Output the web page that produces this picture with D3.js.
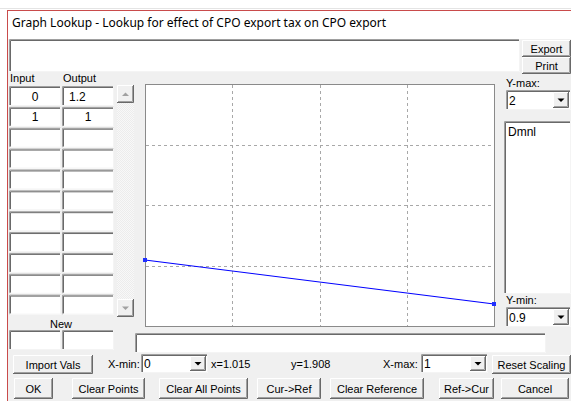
<!DOCTYPE html>
<html>
<head>
<meta charset="utf-8">
<script src="https://cdn.jsdelivr.net/npm/d3@7"></script>
<style>
  body { margin: 0; background: #fff; }
  svg text { font-family: "Liberation Sans", Arial, sans-serif; font-size: 11px; fill: #000; }
  .title { font-family: "Noto Sans", sans-serif; font-size: 12px; }
</style>
</head>
<body>
<div class="chart"></div>
<script>
// lookup points
var inputs = [0, 1];
var outputs = [1.2, 1];
var xRange = [0, 1];
var yRange = [0.9, 2];
var gridDivs = 4;
var units = 'Dmnl';
var titleText = 'Graph Lookup - Lookup for effect of CPO export tax on CPO export';
var tableRows = 11;

var W = 571, H = 401;
var svg = d3.select('.chart').append('svg')
    .attr('width', W).attr('height', H);

// window frame
svg.append('rect').attr('x', 0).attr('y', 0).attr('width', W).attr('height', H).attr('fill', '#fff');
svg.append('line').attr('x1', 0).attr('x2', W).attr('y1', 8.5).attr('y2', 8.5).attr('stroke', '#e4e4e4');
svg.append('rect').attr('x', 7).attr('y', 10).attr('width', W - 7).attr('height', H - 10).attr('fill', '#f0f0f0');
svg.append('rect').attr('x', 8).attr('y', 11).attr('width', W - 8).attr('height', 28).attr('fill', '#fff');
svg.append('line').attr('x1', 7.5).attr('x2', 7.5).attr('y1', 10).attr('y2', H).attr('stroke', '#c94b4b');
svg.append('line').attr('x1', 7).attr('x2', W).attr('y1', 10.5).attr('y2', 10.5).attr('stroke', '#c94b4b');
svg.append('text').attr('class', 'title').attr('x', 12).attr('y', 27).text(titleText);

function sunken(x, y, w, h, fill) {
  var g = svg.append('g');
  g.append('rect').attr('x', x).attr('y', y).attr('width', w).attr('height', h).attr('fill', fill || '#fff');
  g.append('path').attr('d', 'M' + (x + 0.5) + ',' + (y + h) + 'V' + (y + 0.5) + 'H' + (x + w))
    .attr('stroke', '#a0a0a0').attr('fill', 'none');
  g.append('path').attr('d', 'M' + (x + 1.5) + ',' + (y + h - 1) + 'V' + (y + 1.5) + 'H' + (x + w - 1))
    .attr('stroke', '#696969').attr('fill', 'none');
  g.append('path').attr('d', 'M' + x + ',' + (y + h - 0.5) + 'H' + (x + w - 0.5) + 'V' + y)
    .attr('stroke', '#f4f4f4').attr('fill', 'none');
  return g;
}

function button(x, y, w, h, label) {
  var g = svg.append('g');
  g.append('rect').attr('x', x).attr('y', y).attr('width', w).attr('height', h).attr('fill', '#f0f0f0');
  g.append('path').attr('d', 'M' + (x + 0.5) + ',' + (y + h - 1) + 'V' + (y + 0.5) + 'H' + (x + w - 1))
    .attr('stroke', '#fff').attr('fill', 'none');
  g.append('path').attr('d', 'M' + x + ',' + (y + h - 0.5) + 'H' + (x + w - 0.5) + 'V' + y)
    .attr('stroke', '#696969').attr('fill', 'none');
  g.append('path').attr('d', 'M' + (x + 1) + ',' + (y + h - 1.5) + 'H' + (x + w - 1.5) + 'V' + (y + 1))
    .attr('stroke', '#a0a0a0').attr('fill', 'none');
  if (label) {
    g.append('text').attr('x', x + w / 2).attr('y', y + h / 2 + 4)
      .attr('text-anchor', 'middle').text(label);
  }
  return g;
}

function arrowDown(cx, cy, color) {
  svg.append('path').attr('d', 'M' + (cx - 3.5) + ',' + (cy - 1.5) + 'h7l-3.5,3.5z').attr('fill', color || '#000');
}

function combo(x, y, w, h, value) {
  sunken(x, y, w, h);
  button(x + w - 18, y + 2, 16, h - 4);
  arrowDown(x + w - 10, y + h / 2, '#000');
  svg.append('text').attr('x', x + 3).attr('y', y + h / 2 + 4.5).style('font-size', '12px').text(value);
}

// top text area and Export / Print
sunken(9, 39, 511, 33);
button(522, 40, 49, 17, 'Export');
button(522, 57, 49, 17, 'Print');

// table headers
svg.append('text').attr('x', 10).attr('y', 82).text('Input');
svg.append('text').attr('x', 63).attr('y', 82).text('Output');

var rowY = d3.scaleLinear().domain([0, tableRows]).range([86, 315.5]);
d3.range(tableRows).forEach(function(i) {
  sunken(9, rowY(i), 52, 20);
  sunken(62, rowY(i), 52, 20);
});
inputs.forEach(function(v, i) {
  svg.append('text').attr('x', 35).attr('y', rowY(i) + 14.5).attr('text-anchor', 'middle')
    .style('font-size', '12px').text(v);
  svg.append('text').attr('x', outputs[i] % 1 === 0 ? 88 : 69).attr('y', rowY(i) + 14.5)
    .attr('text-anchor', outputs[i] % 1 === 0 ? 'middle' : 'start')
    .style('font-size', '12px').text(outputs[i]);
});

// scroll bar
var pat = svg.append('defs').append('pattern').attr('id', 'dots')
  .attr('width', 2).attr('height', 2).attr('patternUnits', 'userSpaceOnUse');
pat.append('rect').attr('width', 2).attr('height', 2).attr('fill', '#f8f8f8');
pat.append('rect').attr('width', 1).attr('height', 1).attr('fill', '#ececec');
pat.append('rect').attr('x', 1).attr('y', 1).attr('width', 1).attr('height', 1).attr('fill', '#ececec');
svg.append('rect').attr('x', 117).attr('y', 85).attr('width', 17).attr('height', 232).attr('fill', 'url(#dots)');
button(117, 85, 17, 18);
svg.append('path').attr('d', 'M122,96h7l-3.5,-3.5z').attr('fill', '#a0a0a0');
button(117, 299, 17, 18);
arrowDown(125.5, 308, '#a0a0a0');

svg.append('text').attr('x', 61).attr('y', 328).attr('text-anchor', 'middle').text('New');
sunken(9, 330, 52, 20);
sunken(62, 330, 52, 20);

// plot area
var margin = { left: 145, top: 84, right: 494, bottom: 326 };
svg.append('rect').attr('x', 139).attr('y', 79).attr('width', 362).attr('height', 252).attr('fill', '#f0f0f0');
var x = d3.scaleLinear().domain(xRange).range([margin.left, margin.right]);
var y = d3.scaleLinear().domain(yRange).range([margin.bottom, margin.top]);

svg.append('rect').attr('x', margin.left + 0.5).attr('y', margin.top + 0.5)
  .attr('width', margin.right - margin.left).attr('height', margin.bottom - margin.top)
  .attr('fill', '#fff').attr('stroke', '#8a8a8a');

var xTicks = d3.range(1, gridDivs).map(function(i) { return xRange[0] + (xRange[1] - xRange[0]) * i / gridDivs; });
var yTicks = d3.range(1, gridDivs).map(function(i) { return yRange[0] + (yRange[1] - yRange[0]) * i / gridDivs; });

var grid = svg.append('g').attr('stroke', '#a8a8a8').attr('stroke-dasharray', '3,3');
grid.selectAll('.vx').data(xTicks).enter().append('line')
  .attr('x1', function(d) { return Math.round(x(d)) + 0.5; })
  .attr('x2', function(d) { return Math.round(x(d)) + 0.5; })
  .attr('y1', margin.top + 1).attr('y2', margin.bottom);
grid.selectAll('.hy').data(yTicks).enter().append('line')
  .attr('y1', function(d) { return Math.round(y(d)) + 0.5; })
  .attr('y2', function(d) { return Math.round(y(d)) + 0.5; })
  .attr('x1', margin.left + 1).attr('x2', margin.right);

var pts = inputs.map(function(d, i) { return [d, outputs[i]]; });
svg.append('path').datum(pts)
  .attr('d', d3.line().x(function(d) { return x(d[0]); }).y(function(d) { return y(d[1]); }))
  .attr('stroke', '#0000ff').attr('stroke-width', 1.2).attr('fill', 'none');
svg.selectAll('.pt').data(pts).enter().append('rect')
  .attr('x', function(d) { return x(d[0]) - 2; })
  .attr('y', function(d) { return y(d[1]) - 2; })
  .attr('width', 4).attr('height', 4).attr('fill', '#2030ff');

// right side
svg.append('text').attr('x', 506).attr('y', 87).text('Y-max:');
combo(506, 90, 65, 20, yRange[1]);
sunken(504, 121, 67, 173);
svg.append('text').attr('x', 508).attr('y', 136).style('font-size', '12px').text(units);
svg.append('text').attr('x', 506).attr('y', 304).text('Y-min:');
combo(506, 307, 65, 20, yRange[0]);

// bottom
sunken(135, 333, 411, 20);
button(13, 355, 80, 19, 'Import Vals');
svg.append('text').attr('x', 108).attr('y', 368).text('X-min:');
combo(141, 354, 67, 19, xRange[0]);
svg.append('text').attr('x', 211).attr('y', 368).text('x=1.015');
svg.append('text').attr('x', 291).attr('y', 368).text('y=1.908');
svg.append('text').attr('x', 383).attr('y', 368).text('X-max:');
combo(421, 354, 67, 19, xRange[1]);
button(492, 355, 79, 19, 'Reset Scaling');

var bottomButtons = [
  { label: 'OK', x: 14, w: 39 },
  { label: 'Clear Points', x: 72, w: 73 },
  { label: 'Clear All Points', x: 159, w: 89 },
  { label: 'Cur->Ref', x: 257, w: 64 },
  { label: 'Clear Reference', x: 330, w: 94 },
  { label: 'Ref->Cur', x: 439, w: 55 },
  { label: 'Cancel', x: 501, w: 68 }
];
bottomButtons.forEach(function(b) { button(b.x, 378, b.w, 21, b.label); });
</script>
</body>
</html>
